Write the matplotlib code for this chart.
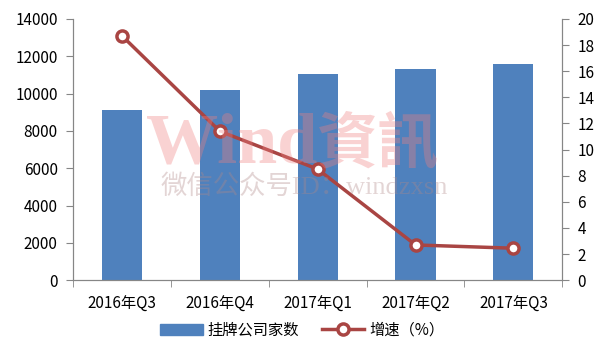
import matplotlib
matplotlib.use("Agg")
import matplotlib.pyplot as plt
from matplotlib.lines import Line2D
from matplotlib.patches import Patch

plt.rcParams['font.family'] = ['Noto Sans CJK SC', 'DejaVu Sans']

quarters = ["2016年Q3", "2016年Q4", "2017年Q1", "2017年Q2", "2017年Q3"]
companies = [9120, 10190, 11050, 11300, 11590]
growth = [18.7, 11.4, 8.5, 2.7, 2.45]

bar_color = "#4F81BD"
line_color = "#A94543"
axis_gray = "#868686"

fig = plt.figure(figsize=(6.04, 3.63), dpi=100)
ax = fig.add_axes([0.121, 0.228, 0.810, 0.72])
ax2 = ax.twinx()

x = range(len(quarters))
ax.bar(x, companies, width=0.41, color=bar_color, zorder=2)
ax.set_xlim(-0.5, len(quarters) - 0.5)
ax.set_ylim(0, 14000)
ax.set_yticks(range(0, 14001, 2000))

ax2.plot(x, growth, color=line_color, lw=2.5, marker="o", ms=8,
         mfc="white", mec=line_color, mew=2.5, zorder=3)
ax2.set_ylim(0, 20)
ax2.set_yticks(range(0, 21, 2))

ax.set_xticks(list(x))
ax.set_xticklabels(quarters)
ax.set_xticks([i - 0.5 for i in range(len(quarters) + 1)], minor=True)
ax.tick_params(axis="x", which="major", length=0, pad=11, labelsize=11)
ax.tick_params(axis="x", which="minor", length=5, color=axis_gray)
ax.tick_params(axis="y", length=5, color=axis_gray, labelsize=11, pad=6)
ax2.tick_params(axis="y", length=5, color=axis_gray, labelsize=11, pad=6)

for a in (ax, ax2):
    a.spines["top"].set_visible(False)
    for s in ("left", "right", "bottom"):
        a.spines[s].set_color(axis_gray)

# watermark
fig.text(0.525, 0.60, "Wind", family=["Liberation Serif"], fontsize=52,
         weight="bold", color="#F08080", alpha=0.35, ha="right", va="center")
fig.text(0.525, 0.60, "資訊", fontsize=44, weight="bold", color="#F08080",
         alpha=0.35, ha="left", va="center")
fig.text(0.503, 0.485, "微信公众号ID：windzxsn",
         family=["Liberation Serif", "Noto Sans CJK SC"],
         fontsize=19, color="#B08888", alpha=0.35, ha="center", va="center")

handles = [Patch(color=bar_color),
           Line2D([], [], color=line_color, lw=2.5, marker="o", ms=8,
                  mfc="white", mec=line_color, mew=2.5)]
fig.legend(handles, ["挂牌公司家数", "增速（%）"], loc="center",
           bbox_to_anchor=(0.5, 0.09), ncol=2, frameon=False, fontsize=11,
           handlelength=2.8, columnspacing=1.5, handletextpad=0.3)

fig.savefig("out.png", dpi=100)
